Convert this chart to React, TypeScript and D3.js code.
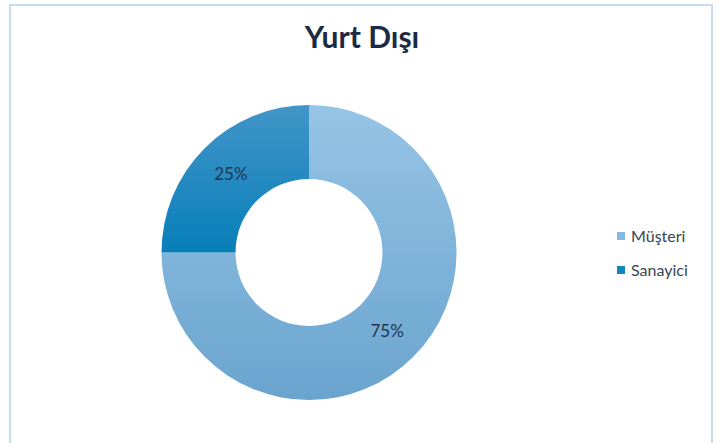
import React from "react";
import * as d3 from "d3";

const categories = ["Müşteri", "Sanayici"];
const values = [75, 25];
const labels = ["75%", "25%"];
const title = "Yurt Dışı";

const W = 719;
const H = 443;

export default function App() {
  const cx = 309;
  const cy = 252.5;
  const outerR = 147.5;
  const innerR = 73.5;
  const pie = d3.pie<number>().sort(null).value((d) => d);
  const arcs = pie(values);
  const arc = d3.arc<d3.PieArcDatum<number>>().innerRadius(innerR).outerRadius(outerR);
  const fills = ["url(#gLight)", "url(#gDark)"];
  const legendColors = ["#86b9e0", "#1186c0"];

  return (
    <svg width={W} height={H} style={{ position: "absolute", left: 0, top: 0, fontFamily: "Lato, sans-serif" }}>
      <defs>
        <linearGradient id="gLight" gradientUnits="userSpaceOnUse" x1="0" y1={-outerR} x2="0" y2={outerR}>
          <stop offset="0" stopColor="#96c4e6" />
          <stop offset="1" stopColor="#6aa4ce" />
        </linearGradient>
        <linearGradient id="gDark" gradientUnits="userSpaceOnUse" x1="0" y1={-outerR} x2="0" y2={0}>
          <stop offset="0" stopColor="#4295c8" />
          <stop offset="1" stopColor="#077fb9" />
        </linearGradient>
      </defs>
      <rect x={0} y={0} width={W} height={H} fill="#ffffff" />
      <rect x={10} y={5} width={702} height={460} fill="none" stroke="#c8dcf0" strokeWidth={2} />
      <text x={362} y={48} textAnchor="middle" fontSize={30} fontWeight={700} fill="#1c2a44">
        {title}
      </text>
      <g transform={`translate(${cx},${cy})`}>
        {arcs.map((a, i) => (
          <path key={i} d={arc(a) || ""} fill={fills[i]} />
        ))}
        {arcs.map((a, i) => {
          const [x, y] = arc.centroid(a);
          return (
            <text key={"l" + i} x={x} y={y} dy="0.35em" textAnchor="middle" fontSize={17} fill="#203550">
              {labels[i]}
            </text>
          );
        })}
      </g>
      <g>
        {categories.map((c, i) => (
          <g key={c} transform={`translate(617,${232 + i * 34})`}>
            <rect x={0} y={0} width={8} height={8} fill={legendColors[i]} />
            <text x={14} y={10} fontSize={16} fill="#3a4555">
              {c}
            </text>
          </g>
        ))}
      </g>
    </svg>
  );
}
